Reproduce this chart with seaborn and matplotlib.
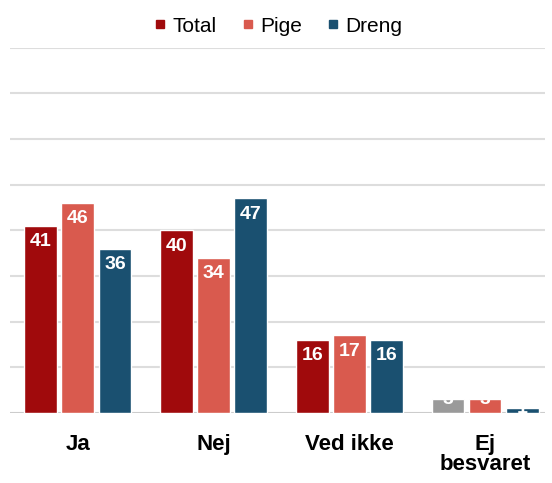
import pandas as pd
import matplotlib.pyplot as plt
import seaborn as sns
from matplotlib.lines import Line2D

# Data
categories = ["Ja", "Nej", "Ved ikke", "Ej\nbesvaret"]
series = ["Total", "Pige", "Dreng"]
total = [41, 40, 16, 3]
pige = [46, 34, 17, 3]
dreng = [36, 47, 16, 1]

colors = {"Total": "#a00a0c", "Pige": "#d95a4e", "Dreng": "#1a5070"}

df = pd.DataFrame({
    "kategori": categories * 3,
    "serie": ["Total"] * 4 + ["Pige"] * 4 + ["Dreng"] * 4,
    "andel": total + pige + dreng,
})

sns.set_theme(style="white")
plt.rcParams["font.family"] = ["Liberation Sans", "DejaVu Sans"]

fig = plt.figure(figsize=(5.52, 4.83), dpi=100)
ax = fig.add_axes([0.018, 0.145, 0.969, 0.756])

sns.barplot(data=df, x="kategori", y="andel", hue="serie", hue_order=series,
            palette=colors, saturation=1, width=0.82, gap=0.12, legend=False,
            ax=ax, zorder=3)

# "Ej besvaret" total bar is grey in the original
ax.containers[0][3].set_facecolor("#9a9a9a")

for cont in ax.containers:
    for bar in cont:
        h = bar.get_height()
        # small bars: label sits on the bar top (white, barely visible)
        off = -11.5 if h >= 10 else 0
        ax.annotate(f"{h:.0f}", (bar.get_x() + bar.get_width() / 2, h),
                    xytext=(0, off), textcoords="offset points",
                    ha="center", va="center", color="white",
                    fontsize=14, fontweight="bold", zorder=4)

ax.set_ylim(0, 80)
ax.set_xlim(-0.5, 3.44)
ax.set_yticks(range(10, 81, 10))
ax.set_yticklabels([])
ax.yaxis.grid(True, color="#dddddd", linewidth=1.5, zorder=0)
ax.axhline(0, color="#cccccc", linewidth=1.5, zorder=2)
for s in ax.spines.values():
    s.set_visible(False)
ax.set_xlabel("")
ax.set_ylabel("")
ax.tick_params(axis="x", length=0, pad=15, labelcolor="black")
for lbl in ax.get_xticklabels():
    lbl.set_fontsize(16)
    lbl.set_fontweight("bold")
    lbl.set_linespacing(0.95)

handles = [Line2D([], [], marker="s", linestyle="", markersize=6,
                  color=colors[s]) for s in series]
leg = fig.legend(handles, series, loc="center", bbox_to_anchor=(0.5, 0.946),
                 ncol=3, frameon=False, fontsize=15, handletextpad=0.1,
                 columnspacing=1.0, handlelength=1)
for t in leg.get_texts():
    t.set_color("black")

fig.savefig("out.png", dpi=100)
